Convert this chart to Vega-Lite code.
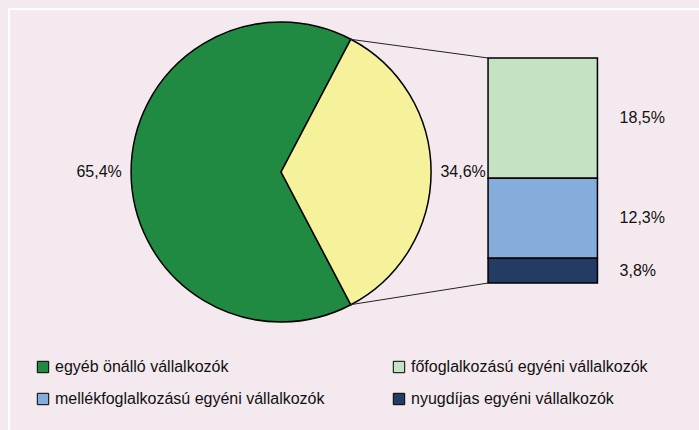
{
  "$schema": "https://vega.github.io/schema/vega-lite/v6.json",
  "width": 692,
  "height": 423,
  "autosize": {"type": "none"},
  "padding": {"left": 9, "top": 9, "right": -2, "bottom": -2},
  "background": "#F4E9EE",
  "view": {"fill": "#F4E9EE", "stroke": "#FFFFFF", "strokeWidth": 2},
  "config": {"font": "Liberation Sans"},
  "datasets": {
    "kor": [
      {"kategoria": "egyéb önálló vállalkozók", "ertek": 65.4, "cimke": "65,4%"},
      {"kategoria": "egyéni vállalkozók", "ertek": 34.6, "cimke": "34,6%"}
    ],
    "oszlop": [
      {"kategoria": "főfoglalkozású egyéni vállalkozók", "ertek": 18.5, "cimke": "18,5%"},
      {"kategoria": "mellékfoglalkozású egyéni vállalkozók", "ertek": 12.3, "cimke": "12,3%"},
      {"kategoria": "nyugdíjas egyéni vállalkozók", "ertek": 3.8, "cimke": "3,8%"}
    ],
    "osszekoto": [
      {"x": 0.4651, "y": 0.8853, "x2": 1.4, "y2": 0.76},
      {"x": 0.4651, "y": -0.8853, "x2": 1.4, "y2": -0.74}
    ]
  },
  "resolve": {"scale": {"y": "independent"}},
  "layer": [
    {
      "layer": [
        {
          "data": {"name": "kor"},
          "mark": {"type": "arc", "radius": 150, "stroke": "#000000", "strokeWidth": 1.5},
          "encoding": {
            "x": {"datum": 0, "type": "quantitative", "axis": null, "scale": {"domain": [-1.80667, 2.80667], "nice": false, "zero": false}},
            "y": {"datum": 0, "type": "quantitative", "axis": null, "scale": {"domain": [-1.73333, 1.08667], "nice": false, "zero": false}},
            "theta": {"field": "ertek", "type": "quantitative", "stack": true, "scale": {"domain": [0, 100], "range": [0.4838, 6.7670]}},
            "order": {"field": "ertek", "sort": "ascending"},
            "color": {
              "field": "kategoria",
              "type": "nominal",
              "scale": {
                "domain": ["egyéb önálló vállalkozók", "egyéni vállalkozók", "főfoglalkozású egyéni vállalkozók", "mellékfoglalkozású egyéni vállalkozók", "nyugdíjas egyéni vállalkozók"],
                "range": ["#218A42", "#F6F29B", "#C5E2C2", "#84ADDC", "#243C64"]
              },
              "legend": {
                "orient": "none",
                "legendX": 26,
                "legendY": 350,
                "columns": 2,
                "title": null,
                "values": ["egyéb önálló vállalkozók", "mellékfoglalkozású egyéni vállalkozók", "főfoglalkozású egyéni vállalkozók", "nyugdíjas egyéni vállalkozók"],
                "symbolType": "square",
                "symbolSize": 130,
                "symbolStrokeColor": "#000000",
                "symbolStrokeWidth": 1,
                "labelFont": "Liberation Sans",
                "labelFontSize": 16,
                "labelColor": "#111111",
                "labelOffset": 4,
                "labelLimit": 400,
                "columnPadding": 66,
                "rowPadding": 16,
                "padding": 0
              }
            }
          }
        },
        {
          "data": {"name": "kor"},
          "mark": {"type": "text", "radius": 182, "fontSize": 16, "color": "#111111", "align": "center", "baseline": "middle"},
          "encoding": {
            "x": {"datum": 0, "type": "quantitative"},
            "y": {"datum": 0, "type": "quantitative"},
            "theta": {"field": "ertek", "type": "quantitative", "stack": true},
            "order": {"field": "ertek", "sort": "ascending"},
            "text": {"field": "cimke"}
          }
        },
        {
          "data": {"name": "osszekoto"},
          "mark": {"type": "rule", "color": "#222222", "strokeWidth": 1},
          "encoding": {
            "x": {"field": "x", "type": "quantitative"},
            "y": {"field": "y", "type": "quantitative"},
            "x2": {"field": "x2"},
            "y2": {"field": "y2"}
          }
        }
      ]
    },
    {
      "data": {"name": "oszlop"},
      "layer": [
        {
          "mark": {"type": "bar", "orient": "vertical", "stroke": "#000000", "strokeWidth": 1.5},
          "encoding": {
            "x": {"datum": 1.4, "type": "quantitative"},
            "x2": {"datum": 2.14},
            "y": {"field": "ertek", "type": "quantitative", "stack": "zero", "axis": null, "scale": {"domain": [0, 34.6], "range": [274, 49], "nice": false, "zero": false}},
            "order": {"field": "ertek", "sort": "ascending"},
            "color": {"field": "kategoria", "type": "nominal", "legend": null}
          }
        },
        {
          "mark": {"type": "text", "fontSize": 16, "color": "#111111", "align": "left", "baseline": "middle"},
          "encoding": {
            "x": {"datum": 2.29, "type": "quantitative"},
            "y": {"field": "ertek", "type": "quantitative", "stack": "zero", "bandPosition": 0.5},
            "order": {"field": "ertek", "sort": "ascending"},
            "text": {"field": "cimke"}
          }
        }
      ]
    }
  ]
}
